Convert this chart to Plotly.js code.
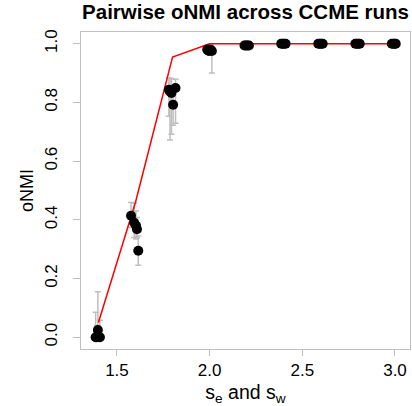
<!DOCTYPE html>
<html>
<head>
<meta charset="utf-8">
<script src="https://cdn.plot.ly/plotly-3.0.1.min.js"></script>
<style>html,body{margin:0;padding:0;background:#fff;}#chart{width:412px;height:406px;}</style>
</head>
<body>
<div id="chart"></div>
<script>
// Points per group (x jittered around each s value), oNMI values and error bars
const x14 = [1.385, 1.392, 1.397, 1.408];
const y14 = [0.0, 0.0, 0.025, 0.0];
const e14up = [0.085, 0.04, 0.13, 0.058];
const e14dn = [0.0, 0.0, 0.02, 0.0];

const x16 = [1.576, 1.593, 1.603, 1.608, 1.615];
const y16 = [0.414, 0.39, 0.38, 0.368, 0.295];
const e16up = [0.045, 0.067, 0.05, 0.04, 0.05];
const e16dn = [0.04, 0.05, 0.045, 0.03, 0.05];

const x18 = [1.78, 1.786, 1.794, 1.803, 1.816];
const y18 = [0.843, 0.837, 0.832, 0.792, 0.849];
const e18up = [0.04, 0.045, 0.05, 0.05, 0.03];
const e18dn = [0.09, 0.165, 0.14, 0.07, 0.12];

const x20 = [1.987, 1.995, 2.005, 2.012];
const y20 = [0.98, 0.975, 0.98, 0.975];
const e20up = [0.01, 0.01, 0.01, 0.01];
const e20dn = [0.01, 0.01, 0.01, 0.075];

const x22 = [2.188, 2.196, 2.204, 2.212];
const y22 = [0.994, 0.994, 0.994, 0.994];
const x24 = [2.386, 2.394, 2.402, 2.41];
const y24 = [1.0, 1.0, 1.0, 1.0];
const x26 = [2.586, 2.594, 2.602, 2.61];
const y26 = [1.0, 1.0, 1.0, 1.0];
const x28 = [2.786, 2.794, 2.802, 2.81];
const y28 = [1.0, 1.0, 1.0, 1.0];
const x30 = [2.983, 2.991, 2.999, 3.004];
const y30 = [1.0, 1.0, 1.0, 1.0];
const eZero = [0, 0, 0, 0];

// Red summary line
const lineX = [1.4, 1.6, 1.8, 2.0, 2.2, 2.4, 2.6, 2.8, 3.0];
const lineY = [0.05, 0.46, 0.955, 1.0, 1.0, 1.0, 1.0, 1.0, 1.0];

// Tick labels
const xTicks = [1.5, 2.0, 2.5, 3.0];
const xTickText = ["1.5", "2.0", "2.5", "3.0"];
const yTicks = [0.0, 0.2, 0.4, 0.6, 0.8, 1.0];
const yTickText = ["0.0", "0.2", "0.4", "0.6", "0.8", "1.0"];

const allX = [].concat(x14, x16, x18, x20, x22, x24, x26, x28, x30);
const allY = [].concat(y14, y16, y18, y20, y22, y24, y26, y28, y30);
const allUp = [].concat(e14up, e16up, e18up, e20up, eZero, eZero, eZero, eZero, eZero);
const allDn = [].concat(e14dn, e16dn, e18dn, e20dn, eZero, eZero, eZero, eZero, eZero);

const font = "Liberation Sans, Arial, Helvetica, sans-serif";
const yRange = [-0.04, 1.04];

const traces = [
  {
    x: allX, y: allY, type: "scatter", mode: "markers",
    marker: {size: 10, color: "rgba(0,0,0,0)"},
    error_y: {type: "data", symmetric: false, array: allUp, arrayminus: allDn,
              color: "#bebebe", thickness: 1.5, width: 3},
    hoverinfo: "skip", showlegend: false
  },
  {
    x: lineX, y: lineY, type: "scatter", mode: "lines",
    line: {color: "#ff0000", width: 1.5}, showlegend: false
  },
  {
    x: allX, y: allY, type: "scatter", mode: "markers",
    marker: {size: 10, color: "#000000"}, showlegend: false
  },
  {
    // invisible carrier so the label axis (y2) is drawn
    x: [xTicks[0]], y: [yTicks[0]], yaxis: "y2", type: "scatter", mode: "markers",
    marker: {size: 1, opacity: 0}, hoverinfo: "skip", showlegend: false
  }
];

const layout = {
  width: 412, height: 406,
  margin: {l: 81, r: 2, t: 32, b: 57, pad: 0},
  paper_bgcolor: "#ffffff", plot_bgcolor: "#ffffff",
  font: {family: font, color: "#000000", size: 16.5},
  title: {text: "<b>Pairwise oNMI across CCME runs</b>", font: {family: font, size: 20.5, color: "#000"},
          x: 0.596, xanchor: "center", y: 0.97, yanchor: "middle"},
  xaxis: {
    range: [1.306, 3.081], tickvals: xTicks, ticktext: xTickText,
    showgrid: false, zeroline: false, showline: true, mirror: true,
    linecolor: "#c0c0c0", linewidth: 1, ticks: "outside", ticklen: 6, tickcolor: "#c0c0c0",
    tickfont: {family: font, size: 17, color: "#000"},
    title: {text: "s<sub>e</sub> and s<sub>w</sub>", font: {family: font, size: 19.5, color: "#000"}, standoff: 5}
  },
  yaxis: {
    range: yRange, tickvals: yTicks, showticklabels: false,
    showgrid: false, zeroline: false, showline: true, mirror: true,
    linecolor: "#c0c0c0", linewidth: 1, ticks: "outside", ticklen: 7, tickcolor: "#c0c0c0",
    title: {text: "oNMI", font: {family: font, size: 18, color: "#000"}, standoff: 34}
  },
  yaxis2: {
    overlaying: "y", side: "left", anchor: "x",
    range: yRange, tickvals: yTicks, ticktext: yTickText, tickangle: -90,
    showgrid: false, zeroline: false, showline: false,
    ticks: "outside", ticklen: 16, tickcolor: "rgba(0,0,0,0)",
    tickfont: {family: font, size: 17, color: "#000"}
  }
};

Plotly.newPlot("chart", traces, layout, {staticPlot: true, displayModeBar: false});
</script>
</body>
</html>
